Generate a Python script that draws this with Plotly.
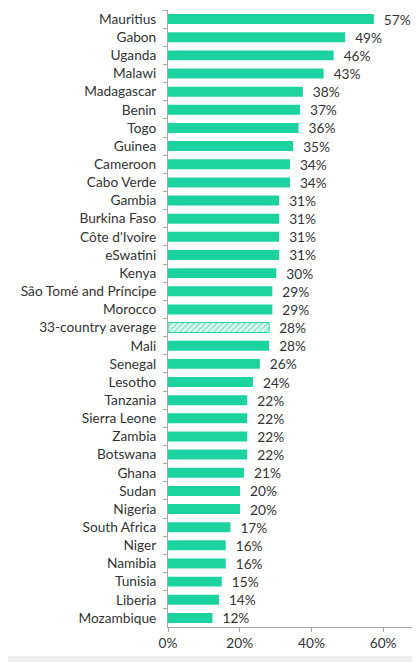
import plotly.graph_objects as go

countries = ["Mauritius", "Gabon", "Uganda", "Malawi", "Madagascar", "Benin", "Togo",
             "Guinea", "Cameroon", "Cabo Verde", "Gambia", "Burkina Faso", "Côte d'Ivoire",
             "eSwatini", "Kenya", "São Tomé and Príncipe", "Morocco", "33-country average",
             "Mali", "Senegal", "Lesotho", "Tanzania", "Sierra Leone", "Zambia", "Botswana",
             "Ghana", "Sudan", "Nigeria", "South Africa", "Niger", "Namibia", "Tunisia",
             "Liberia", "Mozambique"]
values = [57.4, 49.4, 46.2, 43.4, 37.6, 36.8, 36.4, 34.9, 34.0, 34.0, 31.0, 31.0, 31.0,
          31.0, 30.2, 29.1, 29.1, 28.2, 28.2, 25.6, 23.7, 22.1, 22.1, 22.1, 22.1,
          21.2, 20.1, 20.1, 17.4, 16.1, 16.1, 15.0, 14.2, 12.4]
labels = ["57%", "49%", "46%", "43%", "38%", "37%", "36%", "35%", "34%", "34%", "31%",
          "31%", "31%", "31%", "30%", "29%", "29%", "28%", "28%", "26%", "24%", "22%",
          "22%", "22%", "22%", "21%", "20%", "20%", "17%", "16%", "16%", "15%", "14%", "12%"]
x_ticks = [0, 20, 40, 60]
x_tick_labels = ["0%", "20%", "40%", "60%"]
average_name = "33-country average"

TEAL = "#1CD3A0"
FONT = "Lato"
TXT = "#333333"
FS = 13.7

is_avg = [c == average_name for c in countries]
c_main = [c for c, a in zip(countries, is_avg) if not a]
v_main = [v for v, a in zip(values, is_avg) if not a]
t_main = [t for t, a in zip(labels, is_avg) if not a]
c_avg = [c for c, a in zip(countries, is_avg) if a]
v_avg = [v for v, a in zip(values, is_avg) if a]
t_avg = [t for t, a in zip(labels, is_avg) if a]

fig = go.Figure()
fig.add_trace(go.Bar(
    y=c_main, x=v_main, orientation="h", text=t_main, texttemplate="  %{text}",
    textposition="outside", constraintext="none",
    marker=dict(color=TEAL, line=dict(width=0)),
    textfont=dict(family=FONT, size=FS, color=TXT),
    cliponaxis=False, showlegend=False,
))
fig.add_trace(go.Bar(
    y=c_avg, x=v_avg, orientation="h", text=t_avg, texttemplate="  %{text}",
    textposition="outside", constraintext="none",
    marker=dict(color="white", line=dict(width=1, color=TEAL),
                pattern=dict(shape="/", fgcolor=TEAL, bgcolor="white", size=4, solidity=0.55)),
    textfont=dict(family=FONT, size=FS, color=TXT),
    cliponaxis=False, showlegend=False,
))

# page body has an 8px default margin; figure is sized to fit the 420x662 window
fig.update_layout(
    width=412, height=654,
    margin=dict(l=160, r=1, t=2, b=35),
    paper_bgcolor="white", plot_bgcolor="white",
    barmode="overlay", bargap=0.45,
    font=dict(family=FONT, size=FS, color=TXT),
    xaxis=dict(range=[0, 70], tickvals=x_ticks, ticktext=x_tick_labels,
               showgrid=False, zeroline=False, showline=True, linecolor="#A6A6A6",
               ticks="outside", ticklen=4, tickcolor="#A6A6A6", automargin=False,
               tickfont=dict(family=FONT, size=FS, color=TXT)),
    yaxis=dict(categoryorder="array", categoryarray=countries, autorange="reversed",
               showgrid=False, zeroline=False, showline=True, linecolor="#A6A6A6",
               ticks="outside", ticklen=4, tickcolor="#A6A6A6", tickson="boundaries",
               ticklabelstandoff=8, automargin=False,
               tickfont=dict(family=FONT, size=FS, color=TXT)),
    shapes=[dict(type="rect", xref="paper", yref="paper", x0=-0.7, x1=1.01,
                 y0=-0.0486, y1=-0.07, fillcolor="#F0F0F0",
                 line=dict(width=0), layer="below"),
            dict(type="line", xref="paper", yref="paper", x0=-0.7, x1=1.01,
                 y0=-0.0486, y1=-0.0486, line=dict(width=1, color="#E0E0E0"))],
)

fig.write_html("out.html")
